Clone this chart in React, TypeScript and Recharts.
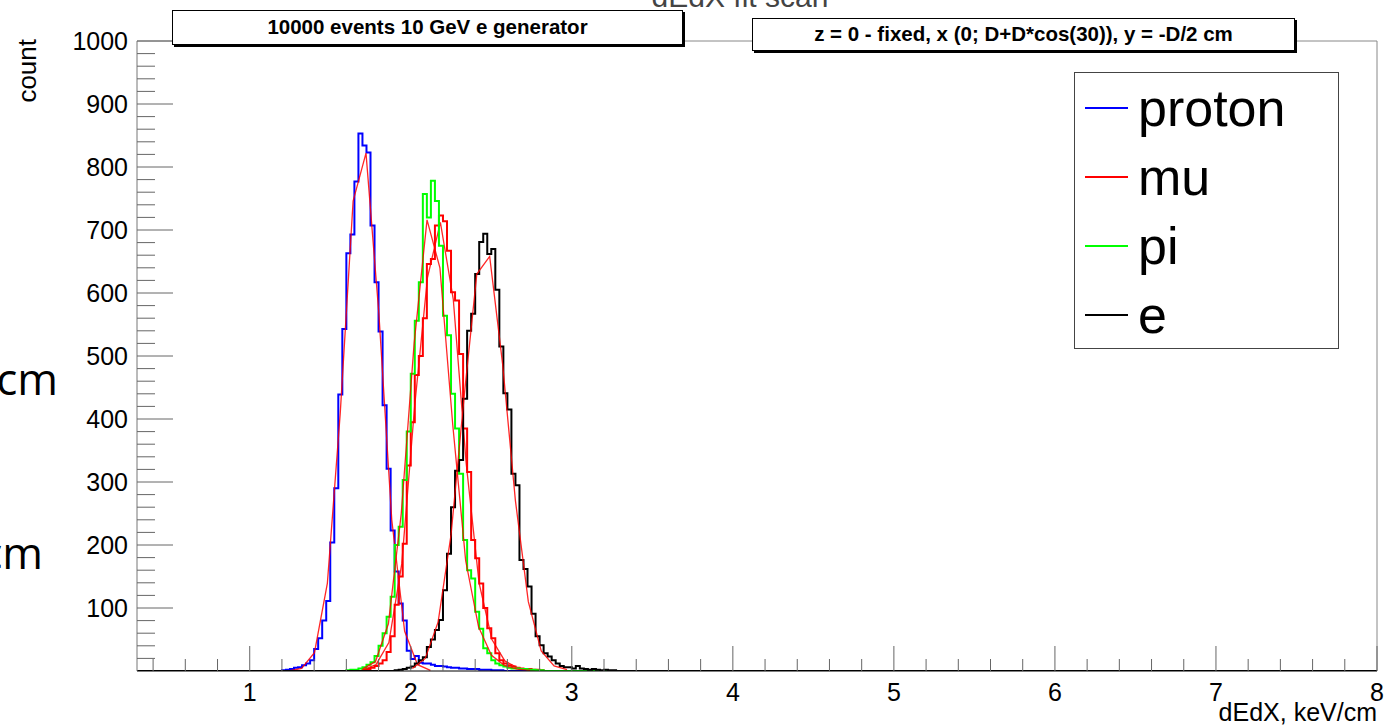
import { LineChart, Line, XAxis, YAxis, ReferenceLine } from 'recharts';

// histogram bins (width 0.025 keV/cm), counts
const binWidth = 0.025;

const protonStart = 1.2;
const protonCounts = [1, 2, 3, 5, 6, 9, 12, 17, 35, 52, 80, 111, 204, 290, 439, 543, 663, 693, 777, 853, 834, 823, 707, 617, 539, 422, 321, 223, 158, 107, 80, 32, 19, 24, 13, 12, 12, 10, 8, 8, 7, 6, 5, 5, 4, 4, 3, 3, 3, 2, 2, 2, 1, 1, 1];

const muStart = 1.7;
const muCounts = [2, 3, 5, 8, 12, 17, 30, 55, 105, 150, 202, 326, 395, 470, 500, 560, 646, 654, 707, 723, 714, 667, 601, 588, 503, 385, 316, 208, 179, 139, 100, 68, 52, 28, 17, 12, 9, 7, 5, 4, 3, 3, 2, 2, 1];

const piStart = 1.6;
const piCounts = [1, 2, 2, 4, 6, 10, 14, 24, 40, 60, 86, 118, 200, 229, 303, 380, 472, 556, 617, 757, 720, 778, 746, 675, 564, 533, 440, 385, 313, 208, 160, 147, 94, 67, 36, 28, 17, 12, 9, 7, 5, 4, 4, 3, 3, 2, 2, 1, 1];

const eStart = 1.9;
const eCounts = [1, 2, 3, 5, 7, 12, 17, 22, 38, 50, 65, 81, 128, 186, 260, 318, 335, 432, 540, 567, 630, 681, 694, 662, 670, 605, 515, 441, 415, 313, 295, 176, 162, 134, 91, 55, 41, 28, 23, 17, 12, 8, 6, 6, 4, 8, 4, 3, 2, 3, 2, 1, 2, 1, 1];

// fit curves, sampled every 0.08
const fitStep = 0.08;
const protonFitStart = 1.242;
const protonFit = [0, 4, 29, 139, 409, 746, 822, 567, 240, 63, 10, 1];
const muFitStart = 1.704;
const muFit = [2, 10, 45, 170, 420, 625, 712, 590, 330, 140, 50, 16, 5, 1];
const piFitStart = 1.701;
const piFit = [3, 15, 75, 250, 520, 716, 640, 390, 175, 70, 25, 9, 3, 1];
const eFitStart = 2.01;
const eFit = [4, 20, 78, 216, 432, 630, 658, 488, 270, 110, 32, 8, 2];

const xMin = 0.3;
const xMax = 8;
const xLabels = [1, 2, 3, 4, 5, 6, 7, 8];
const yLabels = [100, 200, 300, 400, 500, 600, 700, 800, 900, 1000];

const legendItems = [
  { name: 'proton', color: '#0000ff' },
  { name: 'mu', color: '#ff0000' },
  { name: 'pi', color: '#00ff00' },
  { name: 'e', color: '#000000' },
];

const FONT = '"Liberation Sans", Arial, Helvetica, sans-serif';

function histPoints(start: number, counts: number[]) {
  const pts = [{ x: xMin, y: 0 }];
  counts.forEach((c, i) => pts.push({ x: start + i * binWidth, y: c }));
  pts.push({ x: start + counts.length * binWidth, y: 0 });
  pts.push({ x: xMax, y: 0 });
  return pts;
}

function fitPoints(start: number, vals: number[]) {
  return vals.map((v, i) => ({ x: start + i * fitStep, y: v }));
}

// minor ticks every 0.2 on x, every 20 on y
const xTicks = Array.from({ length: 39 }, (_, i) => +(0.4 + 0.2 * i).toFixed(1));
const yTicks = Array.from({ length: 50 }, (_, i) => 20 + 20 * i);

const XTick = (props: any) => {
  const { x, y, payload } = props;
  const v = payload.value;
  const major = xLabels.includes(v);
  return (
    <g>
      <line x1={x} x2={x} y1={y} y2={y - (major ? 25 : 12)} stroke="#666" strokeWidth={1} />
      {major && (
        <text x={x} y={y + 30} textAnchor="middle" fontSize={25} fill="#000" fontFamily={FONT}>
          {v}
        </text>
      )}
    </g>
  );
};

const YTick = (props: any) => {
  const { x, y, payload } = props;
  const v = payload.value;
  const major = yLabels.includes(v);
  return (
    <g>
      <line x1={x} x2={x + (major ? 36 : 18)} y1={y} y2={y} stroke="#666" strokeWidth={1} />
      {major && (
        <text x={x - 9} y={y + 9} textAnchor="end" fontSize={25} fill="#000" fontFamily={FONT}>
          {v}
        </text>
      )}
    </g>
  );
};

const boxStyle: React.CSSProperties = {
  position: 'absolute',
  background: '#fff',
  border: '1px solid #000',
  boxShadow: '2px 2px 0 #000',
  fontFamily: FONT,
  fontWeight: 'bold',
  fontSize: 20.5,
  textAlign: 'center',
  boxSizing: 'border-box',
  whiteSpace: 'nowrap',
};

export default function App() {
  return (
    <div style={{ position: 'absolute', left: 0, top: 0, width: 1385, height: 725, overflow: 'hidden', background: '#fff', fontFamily: FONT }}>
      <LineChart width={1385} height={725} margin={{ top: 41, right: 8, bottom: 0, left: 0 }}>
        <XAxis
          dataKey="x"
          type="number"
          domain={[xMin, xMax]}
          allowDataOverflow
          ticks={xTicks}
          interval={0}
          tickSize={0}
          tickMargin={0}
          tick={<XTick />}
          height={54}
          axisLine={{ stroke: '#000' }}
        />
        <YAxis
          type="number"
          domain={[0, 1000]}
          allowDataOverflow
          ticks={yTicks}
          interval={0}
          tickSize={0}
          tickMargin={0}
          tick={<YTick />}
          width={137}
          axisLine={{ stroke: '#777' }}
        />
        <ReferenceLine y={1000} stroke="#888" />
        <ReferenceLine x={xMax} stroke="#888" />

        <Line data={histPoints(protonStart, protonCounts)} dataKey="y" type="stepAfter" stroke="#0000ff" strokeWidth={2} dot={false} isAnimationActive={false} />
        <Line data={fitPoints(protonFitStart, protonFit)} dataKey="y" type="linear" stroke="#ff0000" strokeWidth={1.3} strokeOpacity={0.85} dot={false} isAnimationActive={false} />
        <Line data={histPoints(muStart, muCounts)} dataKey="y" type="stepAfter" stroke="#ff0000" strokeWidth={2} dot={false} isAnimationActive={false} />
        <Line data={fitPoints(muFitStart, muFit)} dataKey="y" type="linear" stroke="#ff0000" strokeWidth={1.3} strokeOpacity={0.85} dot={false} isAnimationActive={false} />
        <Line data={histPoints(piStart, piCounts)} dataKey="y" type="stepAfter" stroke="#00ff00" strokeWidth={2} dot={false} isAnimationActive={false} />
        <Line data={fitPoints(piFitStart, piFit)} dataKey="y" type="linear" stroke="#ff0000" strokeWidth={1.3} strokeOpacity={0.85} dot={false} isAnimationActive={false} />
        <Line data={histPoints(eStart, eCounts)} dataKey="y" type="stepAfter" stroke="#000000" strokeWidth={2} dot={false} isAnimationActive={false} />
        <Line data={fitPoints(eFitStart, eFit)} dataKey="y" type="linear" stroke="#ff0000" strokeWidth={1.3} strokeOpacity={0.85} dot={false} isAnimationActive={false} />
      </LineChart>

      {/* title, mostly cut off at the top */}
      <div style={{ position: 'absolute', left: 540, top: -18, width: 400, textAlign: 'center', fontSize: 30, lineHeight: '30px', color: '#444' }}>
        dEdX fit scan
      </div>

      <div style={{ ...boxStyle, left: 172, top: 10, width: 511, height: 35, lineHeight: '32px' }}>
        10000 events 10 GeV e generator
      </div>
      <div style={{ ...boxStyle, left: 752, top: 18, width: 543, height: 33, lineHeight: '30px' }}>
        z = 0 - fixed, x (0; D+D*cos(30)), y = -D/2 cm
      </div>

      {/* legend */}
      <div style={{ position: 'absolute', left: 1074, top: 72, width: 265, height: 277, border: '1px solid #444', background: '#fff', boxSizing: 'border-box' }}>
        {legendItems.map((it) => (
          <div key={it.name} style={{ height: 69, display: 'flex', alignItems: 'center' }}>
            <div style={{ width: 43, height: 2, marginLeft: 10, background: it.color }} />
            <span style={{ marginLeft: 10, fontSize: 52, lineHeight: '52px', color: '#000' }}>{it.name}</span>
          </div>
        ))}
      </div>

      {/* axis titles */}
      <div style={{ position: 'absolute', left: -7, top: 60, width: 68, height: 26, lineHeight: '26px', fontSize: 26, textAlign: 'right', transform: 'rotate(-90deg)', whiteSpace: 'nowrap' }}>
        count
      </div>
      <div style={{ position: 'absolute', right: 8, top: 700, fontSize: 25, lineHeight: '25px', whiteSpace: 'nowrap' }}>
        dEdX, keV/cm
      </div>

      {/* fragments of text behind the figure on the left */}
      <div style={{ position: 'absolute', right: 1385 - 58, top: 350, fontSize: 44, lineHeight: '56px', fontFamily: '"Open Sans", sans-serif', whiteSpace: 'nowrap' }}>
        V/cm
      </div>
      <div style={{ position: 'absolute', right: 1385 - 43, top: 524, fontSize: 44, lineHeight: '56px', fontFamily: '"Open Sans", sans-serif', whiteSpace: 'nowrap' }}>
        cm
      </div>
    </div>
  );
}
